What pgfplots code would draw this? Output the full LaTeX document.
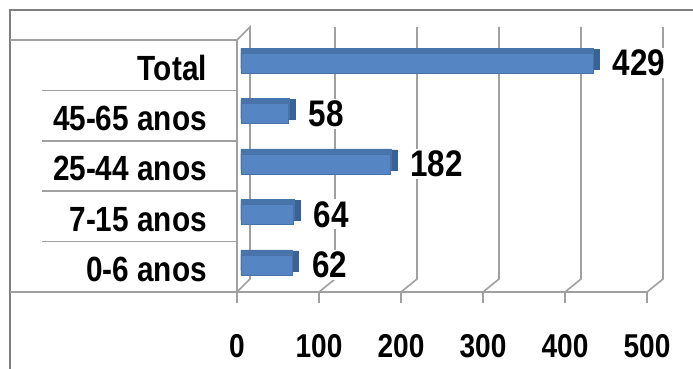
\documentclass[border=0pt]{standalone}
\usepackage{fontspec}
\setmainfont{Liberation Sans}[FakeStretch=0.85]
\usepackage{pgfplots}
\pgfplotsset{compat=1.18}
\usepackage{pgfplotstable}
\definecolor{barfront}{HTML}{5585C2}
\definecolor{bartop}{HTML}{4874AC}
\definecolor{barside}{HTML}{3B6293}
\definecolor{gridgray}{HTML}{A0A0A0}
\definecolor{bordergray}{HTML}{7F7F7F}
\pgfplotstableread{
k v
1 62
2 64
3 182
4 58
5 429
}\agedata
\begin{document}
\begin{tikzpicture}[x=1pt,y=1pt]
\path[use as bounding box] (-237,-77) rectangle (456,292);
% outer border
\draw[bordergray,line width=1.2pt] (-227,-77) -- (-227,282) -- (456,282);
% walls / gridlines
\begin{scope}[gridgray,line width=1.6pt]
  \draw (0,0) -- (0,252) -- (13,265) -- (13,13) -- cycle;
  \foreach \i in {1,...,5} {
    \draw (\i*82,0) -- (\i*82+16,13) -- (\i*82+16,265);
  }
  \draw (-227,0) -- (410,0);
  \draw (-227,252) -- (0,252);
  \foreach \j in {1,...,4} { \draw (-195,252-50.4*\j) -- (0,252-50.4*\j); }
  \foreach \i in {0,...,5} { \draw (\i*82,0) -- (\i*82,-11); }
\end{scope}
\begin{axis}[
  at={(0,0)}, anchor=south west,
  scale only axis, width=410pt, height=252pt,
  xmin=0, xmax=500, ymin=0.5, ymax=5.5,
  axis line style={draw=none},
  major tick length=0pt,
  clip=false,
  xtick={0,100,...,500},
  ytick={1,...,5},
  yticklabels={0-6 anos,7-15 anos,25-44 anos,45-65 anos,Total},
  /pgf/number format/assume math mode=true,
  tick label style={font=\fontsize{33}{33}\selectfont\bfseries},
  yticklabel style={anchor=base east, xshift=-30pt, yshift=-15pt, inner sep=0pt,
    font=\fontsize{35}{35}\selectfont\bfseries},
  xticklabel style={anchor=base, yshift=-65pt, inner sep=0pt},
  xbar, bar width=20pt,
]
\addplot[fill=barside, draw=barside, bar shift=6pt, xshift=4pt] table[y=k, x expr=\thisrow{v}+8] {\agedata};
\addplot[fill=bartop, draw=bartop, bar shift=7pt, xshift=4pt] table[y=k, x expr=\thisrow{v}+1] {\agedata};
\addplot[fill=barfront, draw=barfront!85!black, bar shift=2pt, xshift=4pt,
  nodes near coords,
  every node near coord/.append style={anchor=west, xshift=18pt, fill=white,
    inner sep=2pt, font=\fontsize{37}{37}\selectfont\bfseries, text=black}]
  table[y=k, x=v] {\agedata};
\end{axis}
\end{tikzpicture}
\end{document}
